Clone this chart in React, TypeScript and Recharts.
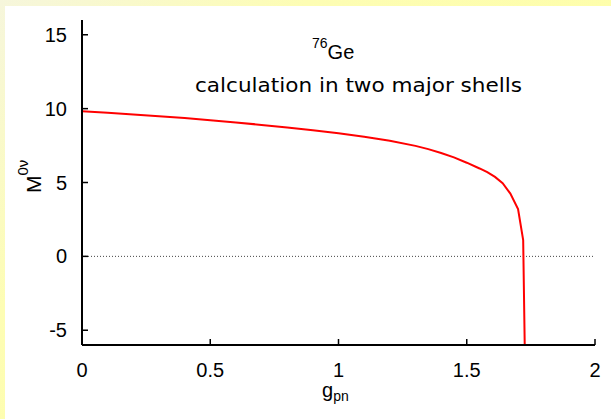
import React from 'react';
import { LineChart, Line, XAxis, YAxis, ReferenceLine } from 'recharts';

const gpn = [0, 0.1, 0.2, 0.3, 0.4, 0.5, 0.6, 0.7, 0.8, 0.9, 1.0, 1.1, 1.2, 1.3, 1.35, 1.4, 1.45, 1.5, 1.55, 1.58, 1.61, 1.64, 1.67, 1.7, 1.72, 1.726];
const m0v = [9.83, 9.72, 9.61, 9.49, 9.36, 9.22, 9.06, 8.9, 8.72, 8.53, 8.33, 8.09, 7.82, 7.48, 7.26, 7.0, 6.7, 6.34, 5.95, 5.7, 5.38, 4.95, 4.25, 3.2, 1.1, -6];
const xTicks = [0, 0.5, 1, 1.5, 2];
const yTicks = [-5, 0, 5, 10, 15];

const data = gpn.map((g, i) => ({ g, m: m0v[i] }));

const FONT = '"Liberation Sans", Arial, sans-serif';
const tickStyle = { fontFamily: FONT, fontSize: 20, fill: '#000' };
const axisLine = { stroke: '#000', strokeWidth: 2 };
const tickLine = { stroke: '#000', strokeWidth: 1.5 };

export default function App() {
  return (
    <div style={{ position: 'absolute', left: 0, top: 0, width: 611, height: 419, background: 'linear-gradient(135deg, #f6f6dc 0%, #fdfdb4 30%, #ffffa0 100%)', overflow: 'hidden' }}>
      <div style={{ position: 'absolute', left: 5, top: 6, right: 0, bottom: 0, background: '#fff' }} />
      <LineChart
        width={611}
        height={419}
        data={data}
        margin={{ top: 20, right: 16, bottom: 34, left: 0 }}
        style={{ position: 'absolute', left: 0, top: 0 }}
      >
        <XAxis
          dataKey="g"
          type="number"
          domain={[0, 2]}
          ticks={xTicks}
          height={40}
          axisLine={axisLine}
          tickLine={tickLine}
          tickSize={-6}
          tickMargin={24}
          tick={tickStyle}
          interval={0}
        />
        <XAxis
          xAxisId="top"
          orientation="top"
          type="number"
          domain={[0, 2]}
          ticks={xTicks}
          height={0}
          axisLine={axisLine}
          tickLine={tickLine}
          tickSize={-6}
          tickFormatter={() => ''}
          interval={0}
        />
        <YAxis
          type="number"
          domain={[-6, 16]}
          ticks={yTicks}
          width={82}
          axisLine={axisLine}
          tickLine={tickLine}
          tickSize={-6}
          tickMargin={21}
          tick={tickStyle}
          interval={0}
        />
        <YAxis
          yAxisId="right"
          orientation="right"
          type="number"
          domain={[-6, 16]}
          ticks={yTicks}
          width={0}
          axisLine={axisLine}
          tickLine={tickLine}
          tickSize={-6}
          tickFormatter={() => ''}
          interval={0}
        />
        <ReferenceLine y={0} stroke="#444" strokeDasharray="1 2" strokeWidth={1} />
        <Line
          dataKey="m"
          type="linear"
          stroke="#ff0000"
          strokeWidth={2}
          dot={false}
          isAnimationActive={false}
        />
      </LineChart>
      <svg width={611} height={419} style={{ position: 'absolute', left: 0, top: 0, pointerEvents: 'none' }}>
        <text x={312} y={59} fontFamily={FONT} fontSize={20} fill="#000">
          <tspan fontSize={14} dy={-11}>76</tspan>
          <tspan dy={11}>Ge</tspan>
        </text>
        <text x={195} y={92} fontFamily='"DejaVu Sans", sans-serif' fontSize={19} fill="#000" textLength={327} lengthAdjust="spacingAndGlyphs">
          calculation in two major shells
        </text>
        <text transform="translate(41,193) rotate(-90)" fontFamily={FONT} fontSize={21} fill="#000">
          <tspan>M</tspan>
          <tspan fontSize={15} dy={-13}>0ν</tspan>
        </text>
        <text x={322} y={397} fontFamily={FONT} fontSize={20} fill="#000">
          <tspan>g</tspan>
          <tspan fontSize={14} dy={4}>pn</tspan>
        </text>
      </svg>
    </div>
  );
}
